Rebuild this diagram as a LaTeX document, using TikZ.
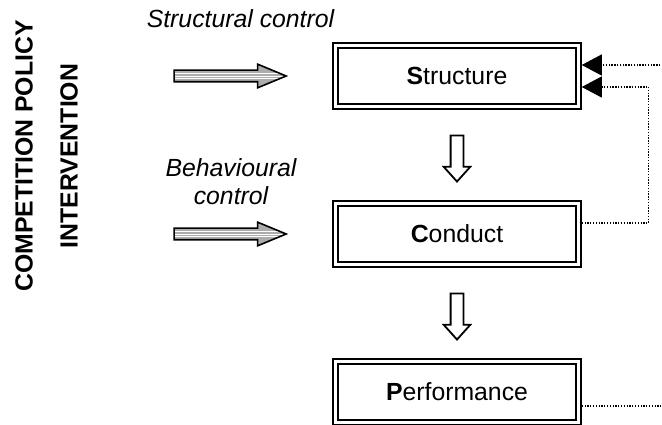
\documentclass[tikz,border=0pt]{standalone}
\usepackage{fontspec}
\setmainfont{Liberation Sans}
\usetikzlibrary{shapes.arrows,arrows.meta,positioning,calc}

\begin{document}
\begin{tikzpicture}[x=1pt, y=1pt, node distance=90.5pt,
    box/.style={rectangle, draw, double, double distance=2.5pt, line width=2pt, minimum width=243pt, minimum height=61pt, outer sep=3.25pt, font=\fontsize{24.8}{30}\selectfont},
    hollow/.style={single arrow, draw, line width=1.8pt, fill=white, rotate=-90, inner sep=5.5pt, minimum height=46pt, single arrow head extend=7pt, single arrow tip angle=84},
    striped/.style={single arrow, draw, line width=1.6pt, fill=gray!65, inner sep=5pt, minimum height=112pt, single arrow head extend=6pt, single arrow tip angle=45,
        path picture={\foreach \d in {-2.8,0,2.8} \draw[white, line width=0.9pt] ([yshift=\d pt]path picture bounding box.west) -- ([yshift=\d pt]path picture bounding box.east);}},
    lbl/.style={font=\fontsize{24.8}{28}\selectfont\itshape, inner sep=0pt},
    fb/.style={line width=1.1pt, dash pattern=on 1.3pt off 1.5pt, -{Triangle[length=20pt, width=21pt]}}]
    \useasboundingbox (0,0) rectangle (662,425);
    \clip (0,0) rectangle (662,425);
    % the three boxes
    \node [box] (struct) at (457,349) {\textbf{S}tructure};
    \node [box, below=of struct] (cond) {\textbf{C}onduct};
    \node [box, below=of cond] (perf) {\textbf{P}erformance};
    % hollow arrows between them
    \node [hollow] (h1) at ($(struct.south)!0.5!(cond.north)$) {};
    \node [hollow] (h2) at ($(cond.south)!0.5!(perf.north)$) {};
    % policy arrows
    \node [striped, left=44pt of struct] (sa) {};
    \node [striped, left=44pt of cond] (ba) {};
    \node [lbl, anchor=base] (slbl) at (240.5,397.3) {Structural control};
    \node [lbl, align=center] (blbl) at (231,243) {Behavioural\\control};
    \node [rotate=90, align=center, inner sep=0pt, font=\fontsize{24.8}{45}\selectfont\bfseries] (title) at (46.5,269) {COMPETITION POLICY\\INTERVENTION};
    % feedback lines
    \draw [fb] ([yshift=11pt]cond.east) -- ++(67,0) |- ([yshift=-11pt]struct.east);
    \draw [fb] ([yshift=-14pt]perf.east) -- ++(90,0) |- ([yshift=11pt]struct.east);
\end{tikzpicture}
\end{document}
